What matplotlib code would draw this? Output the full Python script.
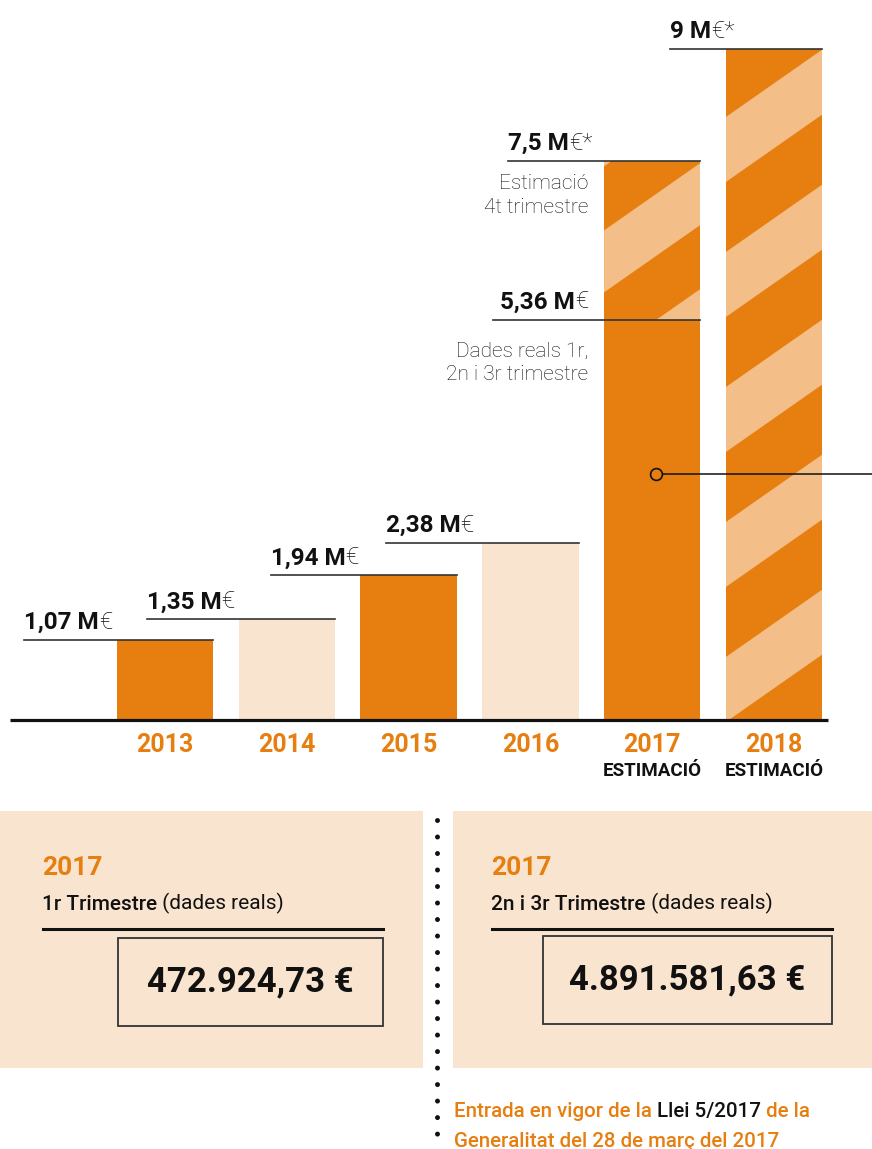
import matplotlib.pyplot as plt
from matplotlib.patches import Rectangle, Polygon
import numpy as np

plt.rcParams['font.family'] = ['Roboto', 'DejaVu Sans']

# --- dades ---
anys = ['2013', '2014', '2015', '2016', '2017', '2018']
imports = [1.07, 1.35, 1.94, 2.38, 7.5, 9.0]
etiquetes = ['1,07', '1,35', '1,94', '2,38', '7,5', '9']
estimacio = [False, False, False, False, True, True]
real_2017 = 5.36
etiqueta_real_2017 = '5,36'

panell_any = ['2017', '2017']
panell_trimestre = ['1r Trimestre', '2n i 3r Trimestre']
panell_import = ['472.924,73 €', '4.891.581,63 €']

TARONJA = '#E67E10'
TARONJA_CLAR = '#F3BE87'
CREMA = '#F9E5CF'
NEGRE = '#111111'

fig = plt.figure(figsize=(8.72, 11.49), dpi=100)

# eix del grafic de barres (ocupa tota la figura)
ax = fig.add_axes([0, 0, 1, 1])
ax.set_xlim(-1.3547, 5.8046)
ax.set_ylim(-5.754, 9.657)
ax.axis('off')
px_x = 872 / (5.8046 + 1.3547)   # pixels per unitat x
px_y = 1149 / (9.657 + 5.754)    # pixels per unitat y

x = np.arange(len(anys))
w = 0.79
colors = [TARONJA, CREMA, TARONJA, CREMA, TARONJA, TARONJA]
bars = ax.bar(x, imports, width=w, color=colors, zorder=2)


def ratlles(bar, y0, y1, fase_px, periode_px, clar_px):
    xl = bar.get_x()
    wd = bar.get_width()
    clip = Rectangle((xl, y0), wd, y1 - y0, transform=ax.transData)
    pend = 0.70 * px_x / px_y
    P = periode_px / px_y
    L = clar_px / px_y
    b = y0 + fase_px / px_y
    while b > y0 - pend * wd - P:
        b -= P
    while b < y1:
        poly = Polygon([(xl, b), (xl + wd, b + pend * wd),
                        (xl + wd, b + L + pend * wd), (xl, b + L)],
                       closed=True, color=TARONJA_CLAR, lw=0, zorder=3)
        ax.add_patch(poly)
        poly.set_clip_path(clip)
        b += P


ratlles(bars[4], real_2017, imports[4], 28, 126, 62)
ratlles(bars[5], 0, imports[5], 133, 135, 65)

# linia de base
ax.plot([-1.273, 5.443], [0, 0], color=NEGRE, lw=2.3, zorder=4, solid_capstyle='butt')


def peces(x0, y0, parts, ha='left', **kw):
    # escriu trossos de text amb pesos diferents un darrere l'altre
    if ha == 'right':
        parts = parts[::-1]
    prev = None
    for txt, pes in parts:
        if prev is None:
            prev = ax.annotate(txt, (x0, y0), ha=ha, va='baseline',
                               fontweight=pes, annotation_clip=False, **kw)
        else:
            prev = ax.annotate(txt, (1 if ha == 'left' else 0, 0), xycoords=prev,
                               ha=ha, va='bottom', fontweight=pes, **kw)
    return prev


# linies i etiquetes de valor
llarg = [189, 188, 186, 193, 192, 152]
for i, (v, lab, est) in enumerate(zip(imports, etiquetes, estimacio)):
    xr = x[i] + w / 2
    xl = xr - llarg[i] / px_x
    ax.plot([xl, xr], [v, v], color='#333333', lw=1.2, zorder=5)
    peces(xl, v + 11 / px_y, [(lab + ' M', 'bold'), ('€*' if est else '€', 'light')],
          fontsize=17.5, color=NEGRE)

# dades reals 2017
xr = x[4] + w / 2
ax.plot([xr - 207 / px_x, xr], [real_2017, real_2017], color='#333333', lw=1.2, zorder=5)
peces(xr - 112 / px_x, real_2017 + 12 / px_y,
      [(etiqueta_real_2017 + ' M', 'bold'), ('€', 'light')], ha='right',
      fontsize=17.5, color=NEGRE)

ax.text(xr - 112 / px_x, imports[4] - 13 / px_y, 'Estimació\n4t trimestre', ha='right', va='top',
        fontsize=15, fontweight='light', color=NEGRE, linespacing=1.33)
ax.text(xr - 112 / px_x, real_2017 - 21 / px_y, 'Dades reals 1r,\n2n i 3r trimestre', ha='right', va='top',
        fontsize=15, fontweight='light', color=NEGRE, linespacing=1.33)

# marcador amb linia
yc = 3.3
ax.plot([x[4] + 0.03, 6.5], [yc, yc], color=NEGRE, lw=1.1, zorder=5)
ax.plot([x[4] + 0.03], [yc], marker='o', ms=8.5, mfc=TARONJA, mec=NEGRE, mew=1.2, zorder=6)

# etiquetes dels anys
for i, a in enumerate(anys):
    ax.annotate(a, (x[i], 0), xytext=(0, -25), textcoords='offset pixels',
                ha='center', va='center', fontsize=18, fontweight='bold', color=TARONJA)
    if estimacio[i]:
        ax.annotate('ESTIMACIÓ', (x[i], 0), xytext=(0, -51), textcoords='offset pixels',
                    ha='center', va='center', fontsize=13.5, fontweight='bold', color=NEGRE)

# --- panells inferiors (coordenades en pixels) ---
ax2 = fig.add_axes([0, 0, 1, 1])
ax2.set_xlim(0, 872)
ax2.set_ylim(1149, 0)
ax2.axis('off')
ax2.patch.set_alpha(0)

panells = [(0, 423, 42, 118, 383), (453, 872, 491, 543, 832)]
for k, (x0, x1, xt, bx0, bx1) in enumerate(panells):
    ax2.add_patch(Rectangle((x0, 811), x1 - x0, 257, color=CREMA, lw=0))
    ax2.text(xt, 868, panell_any[k], fontsize=19, fontweight='bold', color=TARONJA,
             ha='left', va='center')
    t = ax2.text(xt, 910, panell_trimestre[k], fontsize=15, fontweight='medium',
                 color=NEGRE, ha='left', va='baseline')
    ax2.annotate(' (dades reals)', (1, 0), xycoords=t, ha='left', va='bottom',
                 fontsize=15, color=NEGRE)
    ax2.plot([xt + 1, bx1], [929, 929], color=NEGRE, lw=2.2)
    ax2.add_patch(Rectangle((bx0, 938 - (k * 2)), bx1 - bx0, 88, fc='none', ec='#333333', lw=1.3))
    ax2.text((bx0 + bx1) / 2, 982 - k * 2, panell_import[k], fontsize=25, fontweight='bold',
             color=NEGRE, ha='center', va='center')

# linia de punts
ax2.plot([437, 437], [820, 1152], color=NEGRE, lw=3.6, dashes=[0.001, 3.3],
         dash_capstyle='round', clip_on=False)

# nota inferior
t = ax2.text(454, 1117, 'Entrada en vigor de la ', fontsize=14.8, fontweight='medium',
             color=TARONJA, ha='left', va='baseline')
t = ax2.annotate('Llei 5/2017', (1, 0), xycoords=t, ha='left', va='bottom',
                 fontsize=14.8, fontweight='medium', color=NEGRE)
ax2.annotate(' de la', (1, 0), xycoords=t, ha='left', va='bottom',
             fontsize=14.8, fontweight='medium', color=TARONJA)
ax2.text(454, 1147, 'Generalitat del 28 de març del 2017', fontsize=14.8, fontweight='medium',
         color=TARONJA, ha='left', va='baseline')

fig.savefig('out.png', dpi=100)
